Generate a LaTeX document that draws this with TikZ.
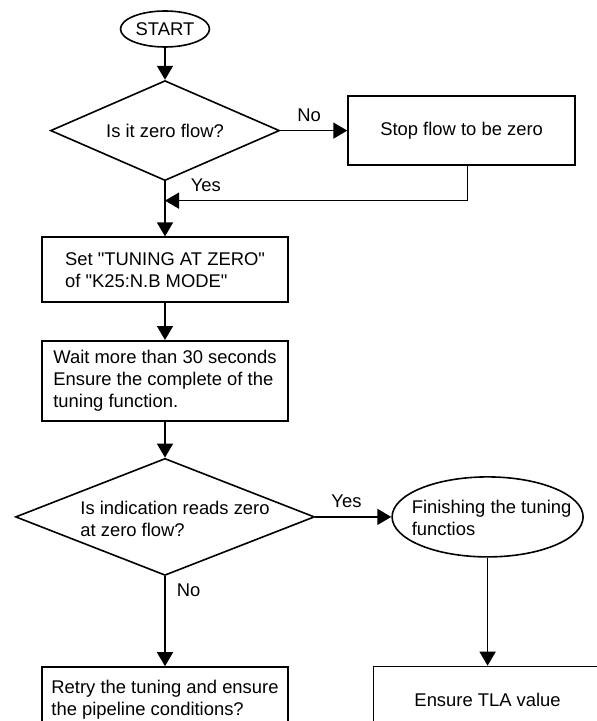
\documentclass[tikz,border=0pt]{standalone}
\usepackage{fontspec}
\setmainfont{Liberation Sans}[Ligatures=TeXOff]
\usetikzlibrary{arrows.meta,positioning,calc,shapes.geometric}
\newcommand{\chartfont}{\fontsize{9.2pt}{11pt}\selectfont}
\tikzset{
  stepbox/.style={draw=black,fill=white,line width=0.8pt,minimum width=123pt,align=left,font=\chartfont,inner xsep=3pt},
  decision/.style={draw=black,fill=white,line width=0.8pt,diamond,aspect=2.4,inner sep=0pt,align=left,font=\chartfont},
  oval/.style={draw=black,fill=white,line width=0.8pt,ellipse,inner sep=1pt,align=left,font=\chartfont},
  textlbl/.style={align=left,font=\chartfont,inner sep=0pt},
  lbl/.style={font=\chartfont,inner sep=2pt},
  line/.style={-{Triangle[length=7pt,width=8pt]},draw=black,line width=0.8pt}
}

\begin{document}
\begin{tikzpicture}
  \useasboundingbox (0,0) rectangle (298.5pt,-360.5pt);
  \clip (0,0) rectangle (298.5pt,-360.5pt);
  % main column
  \node[oval,minimum width=44.5pt,minimum height=18pt] (start) at (82.5pt,-14.5pt) {START};
  \node[decision,minimum width=114.5pt,minimum height=50pt,below=16pt of start] (zeroflow) {Is it zero flow?};
  \node[stepbox,minimum width=113.5pt,minimum height=34.5pt,right=33.5pt of zeroflow] (stopflow) {Stop flow to be zero};
  \node[stepbox,minimum height=32.5pt,below=27.5pt of zeroflow] (setzero) {Set "TUNING AT ZERO"\\of "K25:N.B MODE"};
  \node[stepbox,minimum height=40pt,below=18.5pt of setzero] (wait) {Wait more than 30 seconds\\Ensure the complete of the\\tuning function.};
  \node[decision,minimum width=149.5pt,minimum height=58.5pt,below=18pt of wait,
    label={[textlbl,xshift=5pt,yshift=-1pt]center:{Is indication reads zero\\at zero flow?}}] (readszero) {};
  % right column
  \node[oval,minimum width=95.5pt,minimum height=40pt,inner sep=0pt,right=38pt of readszero,
    label={[textlbl,xshift=2pt,yshift=-0.5pt]center:{Finishing the tuning\\functios}}] (finish) {};
  \node[stepbox,minimum height=33pt,below=45pt of readszero] (retry) {Retry the tuning and ensure\\the pipeline conditions?};
  \node[stepbox,minimum width=114pt,minimum height=33pt,align=center,below=54pt of finish] (tla) {Ensure TLA value};

  \coordinate (merge) at ($(zeroflow.south)!0.35!(setzero.north)$);

  \draw[line] (start) -- (zeroflow);
  \draw[line] (zeroflow.east) -- node[lbl,above,pos=0.43,yshift=2pt] {No} (stopflow.west);
  \draw[line] (zeroflow.south) -- node[lbl,right,pos=0.07,xshift=10.5pt] {Yes} (setzero.north);
  \draw[line] ([xshift=3pt]stopflow.south) |- (merge);
  \draw[line] (setzero) -- (wait);
  \draw[line] (wait) -- (readszero);
  \draw[line] (readszero.east) -- node[lbl,above,pos=0.41,yshift=2pt] {Yes} (finish.west);
  \draw[line] (readszero.south) -- node[lbl,right,pos=0.16,xshift=3.5pt] {No} (retry.north);
  \draw[line] (finish) -- (tla);
\end{tikzpicture}
\end{document}
